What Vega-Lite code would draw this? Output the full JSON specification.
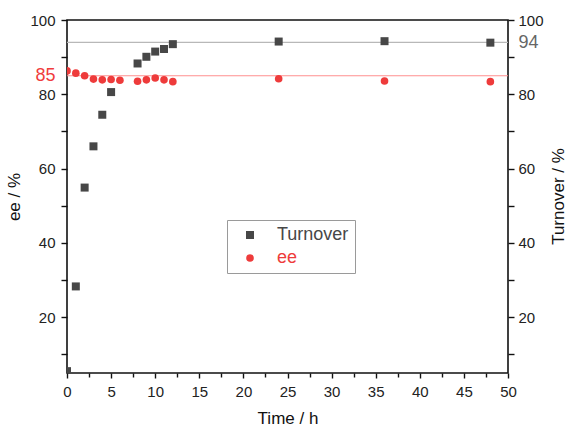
{
  "$schema": "https://vega.github.io/schema/vega-lite/v6.json",
  "width": 441,
  "height": 353,
  "autosize": {"type": "none"},
  "padding": {"left": 67, "top": 20, "right": 59, "bottom": 54},
  "background": "white",
  "config": {
    "font": "Liberation Sans",
    "view": {"stroke": "#111", "strokeWidth": 1.6},
    "axis": {
      "domain": false,
      "grid": false,
      "tickColor": "#111",
      "tickWidth": 1.4,
      "labelColor": "#222",
      "titleColor": "#111",
      "labelFontSize": 15,
      "titleFontSize": 17,
      "titleFontWeight": "normal",
      "labelOverlap": false,
      "labelFlush": false
    }
  },
  "datasets": {
    "obs": [
      {"time": 0, "value": 5.5, "series": "Turnover"},
      {"time": 1, "value": 28.3, "series": "Turnover"},
      {"time": 2, "value": 54.9, "series": "Turnover"},
      {"time": 3, "value": 66.0, "series": "Turnover"},
      {"time": 4, "value": 74.5, "series": "Turnover"},
      {"time": 5, "value": 80.6, "series": "Turnover"},
      {"time": 8, "value": 88.3, "series": "Turnover"},
      {"time": 9, "value": 90.1, "series": "Turnover"},
      {"time": 10, "value": 91.5, "series": "Turnover"},
      {"time": 11, "value": 92.2, "series": "Turnover"},
      {"time": 12, "value": 93.5, "series": "Turnover"},
      {"time": 24, "value": 94.2, "series": "Turnover"},
      {"time": 36, "value": 94.3, "series": "Turnover"},
      {"time": 48, "value": 93.9, "series": "Turnover"},
      {"time": 0, "value": 86.3, "series": "ee"},
      {"time": 1, "value": 85.7, "series": "ee"},
      {"time": 2, "value": 85.0, "series": "ee"},
      {"time": 3, "value": 84.1, "series": "ee"},
      {"time": 4, "value": 83.9, "series": "ee"},
      {"time": 5, "value": 84.0, "series": "ee"},
      {"time": 6, "value": 83.8, "series": "ee"},
      {"time": 8, "value": 83.5, "series": "ee"},
      {"time": 9, "value": 83.9, "series": "ee"},
      {"time": 10, "value": 84.4, "series": "ee"},
      {"time": 11, "value": 83.9, "series": "ee"},
      {"time": 12, "value": 83.4, "series": "ee"},
      {"time": 24, "value": 84.2, "series": "ee"},
      {"time": 36, "value": 83.6, "series": "ee"},
      {"time": 48, "value": 83.4, "series": "ee"}
    ],
    "refs": [
      {"ref": 94, "series": "Turnover"},
      {"ref": 85, "series": "ee"}
    ]
  },
  "layer": [
    {
      "data": {"name": "refs"},
      "mark": {"type": "rule", "strokeWidth": 1.2},
      "encoding": {
        "y": {
          "field": "ref",
          "type": "quantitative",
          "scale": {"domain": [5, 100], "nice": false, "zero": false},
          "axis": {
            "orient": "right",
            "title": "Turnover / %",
            "titleAngle": 270,
            "titleAlign": "center",
            "titleBaseline": "middle",
            "titleX": 50,
            "titleY": 176,
            "values": [10, 20, 30, 40, 50, 60, 70, 80, 90, 94, 100],
            "labelExpr": "datum.value % 20 === 0 || datum.value === 94 ? datum.label : ''",
            "tickSize": 6,
            "tickOpacity": {"condition": {"test": "datum.value === 94", "value": 0}, "value": 1},
            "labelColor": {"condition": {"test": "datum.value === 94", "value": "#666666"}, "value": "#222222"},
            "labelFontSize": {"condition": {"test": "datum.value === 94", "value": 18}, "value": 15},
            "labelPadding": 4
          }
        },
        "color": {
          "condition": {"test": "datum.series === 'ee'", "value": "#ff8f8f"},
          "value": "#b8b8b8"
        }
      }
    },
    {
      "data": {"name": "obs"},
      "mark": {"type": "point", "filled": true, "opacity": 1, "clip": true},
      "encoding": {
        "x": {
          "field": "time",
          "type": "quantitative",
          "scale": {"domain": [0, 50], "nice": false},
          "axis": {
            "title": "Time / h",
            "titleBaseline": "alphabetic",
            "titleY": 50,
            "values": [0, 2.5, 5, 7.5, 10, 12.5, 15, 17.5, 20, 22.5, 25, 27.5, 30, 32.5, 35, 37.5, 40, 42.5, 45, 47.5, 50],
            "labelExpr": "datum.value % 5 === 0 ? datum.label : ''",
            "tickSize": {"condition": {"test": "datum.value % 5 === 0", "value": 5}, "value": 4},
            "labelPadding": 6
          }
        },
        "y": {
          "field": "value",
          "type": "quantitative",
          "scale": {"domain": [5, 100], "nice": false, "zero": false},
          "axis": {
            "orient": "left",
            "title": "ee / %",
            "values": [10, 20, 30, 40, 50, 60, 70, 80, 85, 90, 100],
            "labelExpr": "datum.value % 20 === 0 || datum.value === 85 ? datum.label : ''",
            "tickSize": 6,
            "tickOpacity": {"condition": {"test": "datum.value === 85", "value": 0}, "value": 1},
            "labelColor": {"condition": {"test": "datum.value === 85", "value": "#f03c3c"}, "value": "#222222"},
            "labelFontSize": {"condition": {"test": "datum.value === 85", "value": 18}, "value": 15},
            "labelPadding": 6,
            "titlePadding": 6
          }
        },
        "shape": {
          "field": "series",
          "type": "nominal",
          "scale": {"domain": ["Turnover", "ee"], "range": ["square", "circle"]},
          "legend": null
        },
        "size": {
          "field": "series",
          "type": "nominal",
          "scale": {"domain": ["Turnover", "ee"], "range": [64, 58]},
          "legend": null
        },
        "color": {
          "field": "series",
          "type": "nominal",
          "scale": {"domain": ["Turnover", "ee"], "range": ["#474747", "#ee3b3b"]},
          "legend": {
            "title": null,
            "orient": "none",
            "legendX": 160,
            "legendY": 200,
            "fillColor": "white",
            "strokeColor": "#9a9a9a",
            "padding": 6,
            "symbolType": "circle",
            "symbolSize": 55,
            "symbolOffset": 8,
            "labelOffset": 18,
            "labelFontSize": 18,
            "labelColor": {"expr": "datum.value === 'ee' ? '#ee3b3b' : '#474747'"},
            "rowPadding": 5,
            "encode": {
              "symbols": {"update": {"shape": {"signal": "datum.value === 'Turnover' ? 'square' : 'circle'"}}},
              "legend": {"update": {"strokeWidth": {"value": 1.5}}}
            }
          }
        }
      }
    }
  ],
  "resolve": {"axis": {"y": "independent"}, "scale": {"y": "shared"}}
}
